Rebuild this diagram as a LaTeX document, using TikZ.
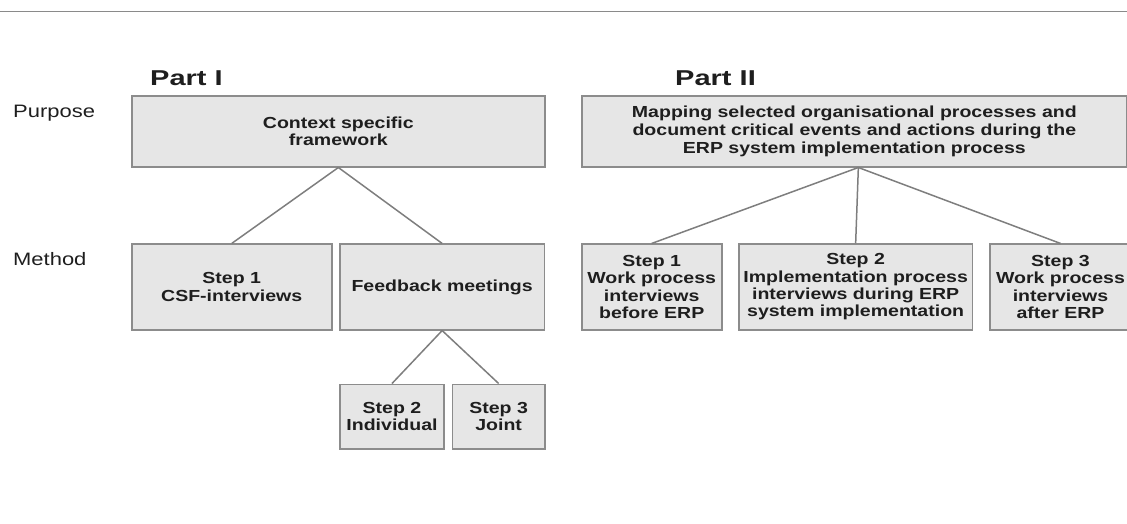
\documentclass[tikz,border=0pt]{standalone}
\usepackage{fontspec}
\setmainfont{Liberation Sans}[FakeStretch=1.22]
\newfontfamily\headfont{Liberation Sans}[FakeStretch=1.35]
\definecolor{boxfill}{HTML}{E6E6E6}
\definecolor{boxline}{HTML}{8C8C8C}
\definecolor{linkgray}{HTML}{7E7E7E}
\definecolor{rulegray}{HTML}{8A8A8A}
\definecolor{ink}{HTML}{1E1E1E}
\begin{document}
\begin{tikzpicture}[x=1pt,y=-1pt,
  box/.style={draw=boxline, line width=1.6pt, fill=boxfill, align=center,
    inner sep=0pt, text=ink, font=\bfseries\fontsize{16}{17.3}\selectfont},
  widebox/.style={box, font=\bfseries\fontsize{16}{18.2}\selectfont},
  link/.style={draw=linkgray, line width=1.5pt},
  toprule/.style={draw=rulegray, line width=1.5pt},
  rowlabel/.style={anchor=base west, inner sep=0pt, text=ink,
    font=\fontsize{18}{20}\selectfont},
  parthead/.style={anchor=base west, inner sep=0pt, text=ink,
    font=\headfont\bfseries\fontsize{21.5}{24}\selectfont}]
\useasboundingbox (0,0) rectangle (1127,523);

% rule across the top
\coordinate (ruleL) at (0,11.5);
\coordinate (ruleR) at (1127,11.5);
\draw[toprule] (ruleL) -- (ruleR);

% headings and row labels
\node[parthead] (p1) at (150,85) {Part I};
\node[parthead] (p2) at (675,85) {Part II};
\node[rowlabel] (purpose) at (13,117) {Purpose};
\node[rowlabel] (method) at (13,265) {Method};

% Part I
\node[box, minimum width=413.3pt, minimum height=70.7pt] (ctx) at (338.35,131.35)
  {Context specific\\framework};
\node[box, minimum width=200pt, minimum height=85.5pt] (csf) at (231.7,287)
  {Step 1\\CSF-interviews};
\node[box, minimum width=204.3pt, minimum height=85.5pt] (feed) at (442.15,287)
  {Feedback meetings};
\node[box, minimum width=104pt, minimum height=64.7pt] (indiv) at (392,416.65)
  {Step 2\\Individual};
\node[box, minimum width=92.7pt, minimum height=64.7pt] (joint) at (498.65,416.65)
  {Step 3\\Joint};

\draw[link] (ctx.south) -- (csf.north);
\draw[link] (ctx.south) -- (feed.north);
\draw[link] (feed.south) -- (indiv.north);
\draw[link] (feed.south) -- (joint.north);

% Part II
\node[widebox, minimum width=545.3pt, minimum height=70.7pt] (map) at (854.35,131.35)
  {Mapping selected organisational processes and\\
   document critical events and actions during the\\
   ERP system implementation process};
\node[box, minimum width=140pt, minimum height=85.5pt] (before) at (651.7,287)
  {Step 1\\Work process\\interviews\\before ERP};
\node[box, minimum width=233.3pt, minimum height=85.5pt] (during) at (855.65,287)
  {Step 2\\Implementation process\\interviews during ERP\\system implementation};
\node[box, minimum width=141pt, minimum height=85.5pt] (after) at (1060.5,287)
  {Step 3\\Work process\\interviews\\after ERP};

\coordinate (fork) at ([xshift=4pt]map.south);
\draw[link] (fork) -- (before.north);
\draw[link] (fork) -- (during.north);
\draw[link] (fork) -- (after.north);
\end{tikzpicture}
\end{document}
